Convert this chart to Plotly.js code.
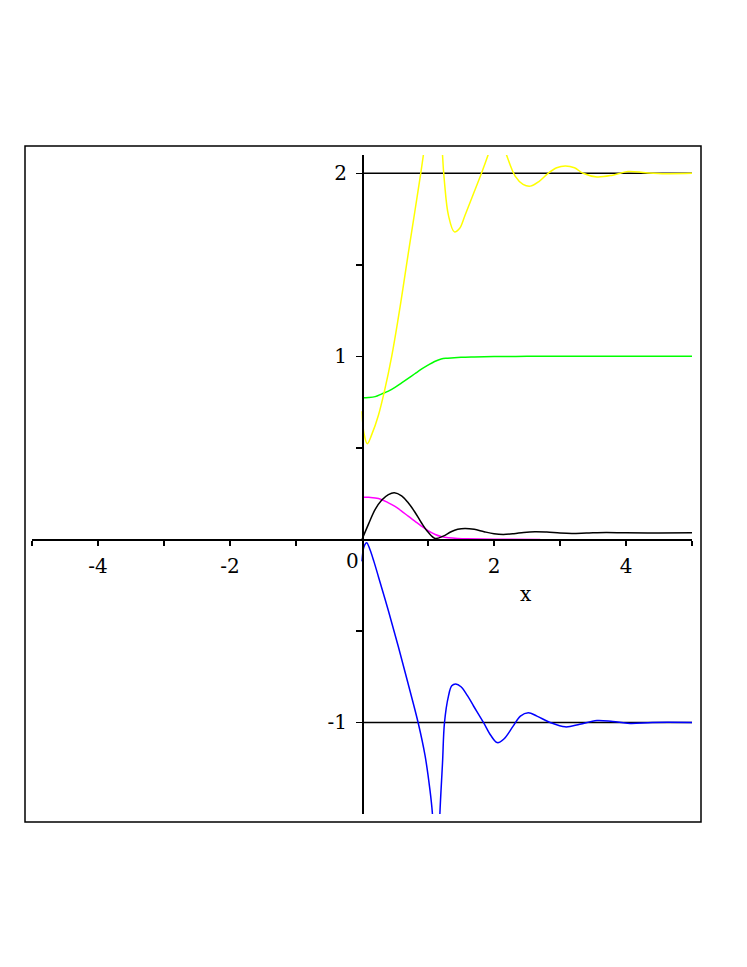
<!DOCTYPE html>
<html>
<head>
<meta charset="utf-8">
<script src="https://cdn.plot.ly/plotly-3.0.1.min.js"></script>
<style>
  html, body { margin: 0; padding: 0; background: #fff; }
  #plot { width: 747px; height: 967px; }
</style>
</head>
<body>
<div id="plot"></div>
<script>
// values
var yellowX = [0, 0.03, 0.08, 0.15, 0.25, 0.34, 0.45, 0.55, 0.62, 0.70, 0.80, 0.89, 0.93, 1.0, 1.08, 1.15, 1.20, 1.22, 1.25, 1.31, 1.40, 1.48, 1.56, 1.68, 1.81, 1.91, 2.0, 2.08, 2.19, 2.32, 2.44, 2.55, 2.68, 2.82, 2.95, 3.08, 3.22, 3.35, 3.56, 3.8, 4.03, 4.3, 4.6, 5.0];
var yellowY = [0.70, 0.58, 0.523, 0.575, 0.68, 0.81, 1.0, 1.21, 1.37, 1.56, 1.79, 2.0, 2.1, 2.3, 2.6, 2.7, 2.35, 2.1, 1.95, 1.77, 1.68, 1.70, 1.77, 1.88, 2.0, 2.1, 2.2, 2.22, 2.1, 1.985, 1.94, 1.93, 1.955, 2.0, 2.03, 2.04, 2.03, 2.0, 1.98, 1.99, 2.01, 2.003, 1.998, 2.0];

var greenX = [0, 0.1, 0.2, 0.3, 0.4, 0.5, 0.6, 0.7, 0.8, 0.9, 1.0, 1.1, 1.2, 1.3, 1.5, 1.7, 2.0, 2.5, 3, 5];
var greenY = [0.774, 0.775, 0.78, 0.795, 0.81, 0.83, 0.855, 0.88, 0.905, 0.93, 0.952, 0.972, 0.986, 0.99, 0.995, 0.997, 0.999, 1.0, 1.0, 1.0];

var magentaX = [0, 0.1, 0.25, 0.4, 0.5, 0.6, 0.7, 0.8, 0.9, 1.0, 1.11, 1.2, 1.31, 1.45, 1.6, 2.0, 2.7];
var magentaY = [0.231, 0.23, 0.224, 0.2, 0.18, 0.155, 0.127, 0.10, 0.073, 0.048, 0.027, 0.016, 0.009, 0.005, 0.003, 0.001, 0];

var blackX = [0, 0.1, 0.2, 0.3, 0.4, 0.49, 0.6, 0.7, 0.8, 0.9, 1.0, 1.11, 1.23, 1.35, 1.45, 1.56, 1.7, 1.85, 2.0, 2.14, 2.3, 2.45, 2.62, 2.8, 3.0, 3.18, 3.4, 3.7, 4.0, 4.5, 5.0];
var blackY = [0, 0.085, 0.164, 0.215, 0.245, 0.255, 0.238, 0.2, 0.15, 0.091, 0.04, 0.005, 0.018, 0.042, 0.055, 0.06, 0.055, 0.042, 0.031, 0.027, 0.031, 0.038, 0.042, 0.04, 0.035, 0.033, 0.035, 0.038, 0.036, 0.035, 0.036];

var blueX = [0, 0.03, 0.07, 0.12, 0.18, 0.25, 0.40, 0.55, 0.70, 0.85, 0.955, 1.03, 1.065, 1.1, 1.13, 1.16, 1.18, 1.22, 1.25, 1.31, 1.36, 1.42, 1.5, 1.6, 1.69, 1.84, 1.95, 2.05, 2.15, 2.29, 2.4, 2.52, 2.65, 2.85, 3.08, 3.3, 3.56, 3.8, 4.06, 4.4, 5.0];
var blueY = [-0.12, -0.04, -0.018, -0.055, -0.12, -0.205, -0.39, -0.585, -0.79, -1.0, -1.18, -1.37, -1.49, -1.75, -1.9, -1.75, -1.5, -1.22, -1.0, -0.856, -0.8, -0.79, -0.805, -0.855, -0.91, -1.0, -1.07, -1.11, -1.09, -1.02, -0.965, -0.947, -0.965, -1.0, -1.024, -1.01, -0.989, -0.995, -1.005, -1.0, -1.0];

// the two constant levels
var levelX = [0, 5];
var upperLevel = [2, 2];
var lowerLevel = [-1, -1];

var xTicks = [-5, -4, -3, -2, -1, 1, 2, 3, 4, 5];
var xTickText = ['', '-4', '', '-2', '', '', '2', '', '4', ''];
var yTicks = [-1, -0.5, 0.5, 1, 1.5, 2];
var yTickText = ['-1', '', '', '1', '', '2'];

var font = 'DejaVu Serif, Liberation Serif, serif';

function line(x, y, color){
  return {
    x: x, y: y,
    type: 'scatter', mode: 'lines',
    line: {color: color, width: 1.5, shape: 'spline', smoothing: 1},
    hoverinfo: 'skip'
  };
}

var data = [
  line(levelX, upperLevel, '#000000'),
  line(levelX, lowerLevel, '#000000'),
  line(magentaX, magentaY, '#ff00ff'),
  line(blackX, blackY, '#000000'),
  line(greenX, greenY, '#00ff00'),
  line(yellowX, yellowY, '#ffff00'),
  line(blueX, blueY, '#0000ff')
];

var layout = {
  width: 747,
  height: 967,
  showlegend: false,
  paper_bgcolor: '#ffffff',
  plot_bgcolor: 'rgba(0,0,0,0)',
  margin: {l: 32, r: 55, t: 155, b: 153},
  xaxis: {
    range: [-5, 5],
    anchor: 'free',
    position: 1.5 / 3.6,
    showgrid: false,
    zeroline: false,
    showline: true,
    linecolor: '#000',
    linewidth: 1.5,
    ticks: 'outside',
    ticklen: 5,
    tickwidth: 1.5,
    tickcolor: '#000',
    tickmode: 'array',
    tickvals: xTicks,
    ticktext: xTickText,
    ticklabelstandoff: 3,
    tickfont: {family: font, size: 20, color: '#000'}
  },
  yaxis: {
    range: [-1.5, 2.1],
    anchor: 'free',
    position: 0.5,
    showgrid: false,
    zeroline: false,
    showline: true,
    linecolor: '#000',
    linewidth: 1.5,
    ticks: 'outside',
    ticklen: 6,
    tickwidth: 1.5,
    tickcolor: '#000',
    tickmode: 'array',
    tickvals: yTicks,
    ticktext: yTickText,
    ticklabelstandoff: 5,
    tickfont: {family: font, size: 20, color: '#000'}
  },
  annotations: [
    {x: -0.15, y: -0.12, xref: 'x', yref: 'y', text: '0', showarrow: false,
     font: {family: font, size: 20, color: '#000'}},
    {x: 2.48, y: -0.30, xref: 'x', yref: 'y', text: 'x', showarrow: false,
     font: {family: font, size: 20, color: '#000'}}
  ],
  shapes: [
    {type: 'rect', xref: 'paper', yref: 'paper',
     x0: -7 / 660, x1: 669 / 660, y0: -8 / 659, y1: 668 / 659,
     line: {color: '#000', width: 1.5}, fillcolor: 'rgba(0,0,0,0)'}
  ]
};

Plotly.newPlot('plot', data, layout, {displayModeBar: false, staticPlot: true});
</script>
</body>
</html>
